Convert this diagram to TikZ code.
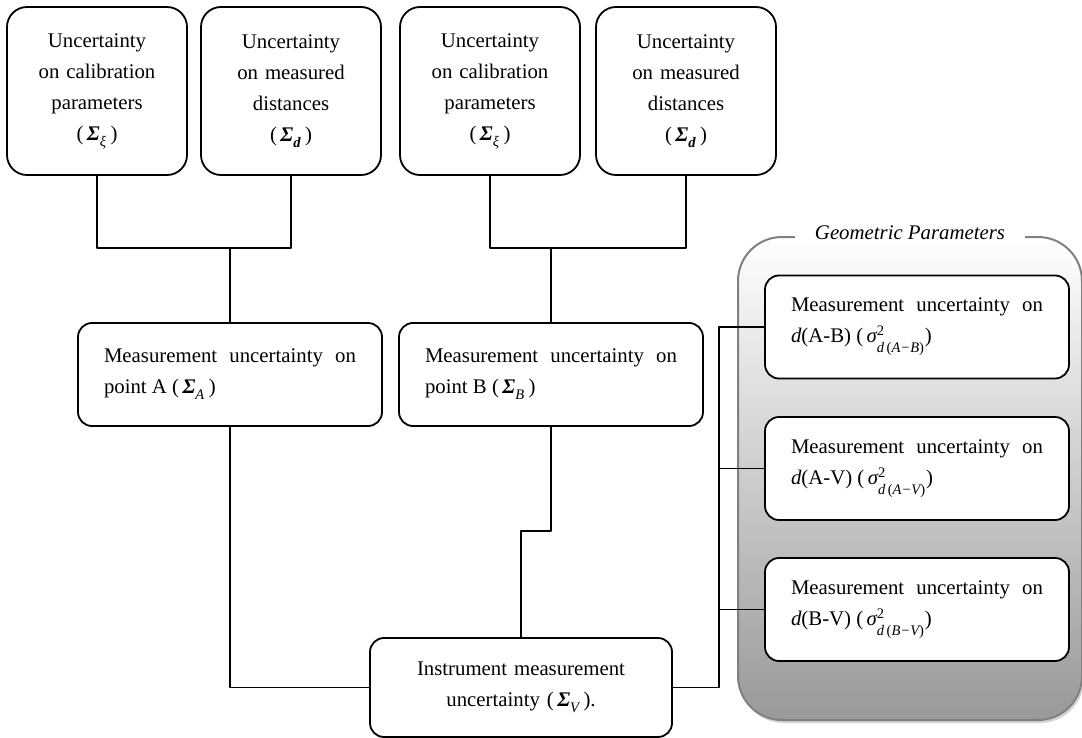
\documentclass[tikz,border=0pt]{standalone}
\usepackage{amsmath}
\usepackage{fontspec}
\setmainfont{Liberation Serif}
\usetikzlibrary{shadows}

\newcommand{\figfont}{\fontsize{10.4}{15.5}\selectfont}
\newcommand{\covar}[1]{(\,$\text{\bfseries\itshape Σ}_{\raisebox{-1.5pt}{$\scriptstyle #1$}}$\,)}
\newcommand{\vard}[2]{(\,$\text{\itshape σ}^{\text{2}}_{\raisebox{-2.5pt}{$\scriptstyle\text{\itshape d\,}\text{(}\text{\itshape #1−#2}\text{)}$}}$)}

\begin{document}
\begin{tikzpicture}[x=0.5pt, y=-0.5pt, line join=round, line cap=round, font=\figfont,
  box/.style={draw, line width=0.9pt, rounded corners=7pt, fill=white, inner sep=0pt},
  srcbox/.style={box, rounded corners=10pt, minimum width=90pt, minimum height=84pt, text width=84pt, align=center},
  ptbox/.style={box, minimum width=152pt, minimum height=51.5pt, text width=126pt, align=justify},
  panel/.style={draw=black!50, line width=1pt, rounded corners=22pt, top color=white, bottom color=black!40,
    minimum width=172pt, minimum height=241.5pt, drop shadow={opacity=0.35, shadow xshift=1pt, shadow yshift=-1.5pt}},
  link/.style={line width=0.9pt}]
\useasboundingbox (0,0) rectangle (1082,738);
% geometric parameters panel
\node[panel] (geo) at (910,478.5) {};
\node[fill=white, inner xsep=10pt, inner ysep=1pt, font=\figfont\itshape] (geolabel) at (910,233) {Geometric Parameters};
\node[ptbox] (dAB) at (917,327) {Measurement uncertainty on \textit{d}(A-B) \vard{A}{B}};
\node[ptbox] (dAV) at (917,468.5) {Measurement uncertainty on \textit{d}(A-V) \vard{A}{V}};
\node[ptbox] (dBV) at (917,609.5) {Measurement uncertainty on \textit{d}(B-V) \vard{B}{V}};
% sources
\node[srcbox] (calA) at (97,91) {Uncertainty\\ on calibration\\ parameters\\ \covar{\text{\itshape ξ}}};
\node[srcbox] (distA) at (291,91) {Uncertainty\\ on measured\\ distances\\ \covar{\text{\bfseries\itshape d}}};
\node[srcbox] (calB) at (490,91) {Uncertainty\\ on calibration\\ parameters\\ \covar{\text{\itshape ξ}}};
\node[srcbox] (distB) at (686,91) {Uncertainty\\ on measured\\ distances\\ \covar{\text{\bfseries\itshape d}}};
% points and instrument
\node[ptbox] (ptA) at (230,374.5) {Measurement uncertainty on point A \covar{\text{\itshape A}}};
\node[ptbox] (ptB) at (551,374.5) {Measurement uncertainty on point B \covar{\text{\itshape B}}};
\node[box, minimum width=151pt, minimum height=49.5pt, text width=140pt, align=center] (instr) at (521,687.5) {Instrument measurement\\ uncertainty \covar{\text{\itshape V}}.};
% connectors
\coordinate (jA) at (230,248);
\coordinate (jB) at (551,248);
\coordinate (bus) at (719,0);
\draw[link] (calA.south) |- (jA) -| (distA.south);
\draw[link] (jA) -- (ptA.north);
\draw[link] (calB.south) |- (jB) -| (distB.south);
\draw[link] (jB) -- (ptB.north);
\draw[link] (ptA.south) |- (instr.west);
\draw[link] (ptB.south) -- ++(0,104) -| (instr.north);
\draw[link] (instr.east) -| (bus |- dAB.west) -- (dAB.west);
\draw[link] (bus |- dAV.west) -- (dAV.west);
\draw[link] (bus |- dBV.west) -- (dBV.west);
\end{tikzpicture}
\end{document}
